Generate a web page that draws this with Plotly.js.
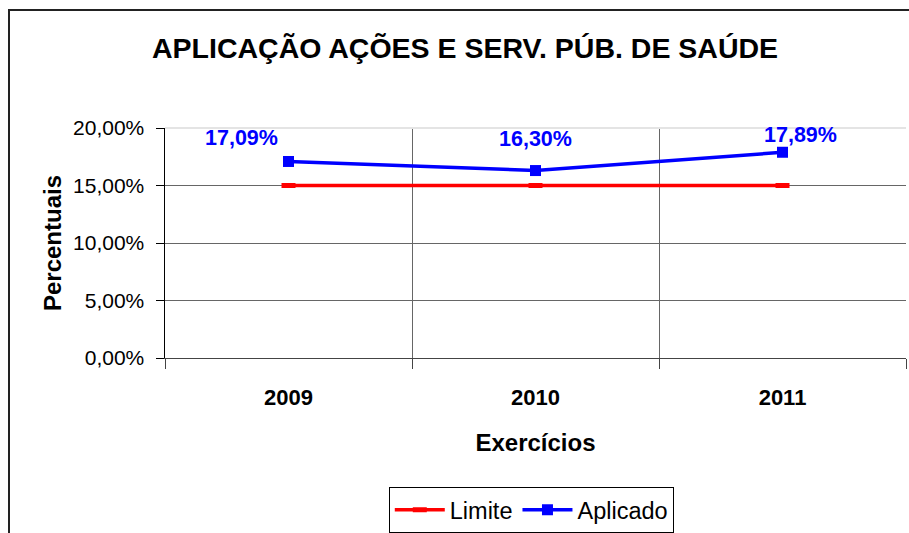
<!DOCTYPE html>
<html>
<head>
<meta charset="utf-8">
<script src="https://cdn.plot.ly/plotly-3.0.1.min.js"></script>
<style>
html,body{margin:0;padding:0;background:#fff;overflow:hidden;width:909px;height:533px;}
#chart{position:absolute;left:0;top:0;width:909px;height:560px;}
#frame{position:absolute;left:8px;top:9px;width:1000px;height:700px;border:2px solid #222;pointer-events:none;box-sizing:border-box;}
</style>
</head>
<body>
<div id="chart"></div>
<div id="frame"></div>
<script>
const years = ['2009', '2010', '2011'];
const limite = [0.15, 0.15, 0.15];
const aplicado = [0.1709, 0.1630, 0.1789];
const aplicadoLabels = ['17,09%', '16,30%', '17,89%'];
const labelShifts = [-47, 0, 18];
const labelYShifts = [23, 32, 17];

const font = 'Liberation Sans, Arial, sans-serif';

const traces = [
  {
    x: years, y: limite, name: 'Limite', type: 'scatter', mode: 'lines+markers',
    line: {color: '#ff0000', width: 3.5},
    marker: {symbol: 'line-ew', size: 10, color: '#ff0000', line: {color: '#ff0000', width: 5}},
    hoverinfo: 'none'
  },
  {
    x: years, y: aplicado, name: 'Aplicado', type: 'scatter', mode: 'lines+markers',
    line: {color: '#0000ff', width: 3.5},
    marker: {symbol: 'square', size: 11, color: '#0000ff'},
    hoverinfo: 'none'
  }
];

const annotations = years.map((yr, i) => ({
  x: i, y: aplicado[i], xref: 'x', yref: 'y',
  text: '<b>' + aplicadoLabels[i] + '</b>',
  showarrow: false, xshift: labelShifts[i], yshift: labelYShifts[i],
  font: {family: font, size: 21.5, color: '#0000ff'}
}));

const layout = {
  width: 909, height: 560,
  paper_bgcolor: 'rgba(0,0,0,0)', plot_bgcolor: 'rgba(0,0,0,0)',
  margin: {l: 165, r: 3, t: 128, b: 202},
  separators: ',.',
  showlegend: true,
  title: {
    text: '<b>APLICAÇÃO AÇÕES E SERV. PÚB. DE SAÚDE</b>',
    font: {family: font, size: 28.5, color: '#000'},
    x: 0.5116, xref: 'container', xanchor: 'center', y: 48, yref: 'container', yanchor: 'middle'
  },
  xaxis: {
    type: 'category', range: [-0.5, 2.5],
    tickson: 'boundaries', ticks: 'outside', ticklen: 10, tickcolor: '#444', tickwidth: 1,
    showgrid: true, gridcolor: '#666', gridwidth: 1,
    showline: true, linecolor: '#444', linewidth: 1,
    tickfont: {family: font, size: 22, color: '#000', weight: 'bold'},
    ticklabelstandoff: 20,
    title: {text: '<b>Exercícios</b>', font: {family: font, size: 24, color: '#000'}, standoff: 24},
    zeroline: false, fixedrange: true
  },
  yaxis: {
    range: [0, 0.2], tickvals: [0, 0.05, 0.10, 0.15, 0.20], tickformat: '.2%',
    ticks: 'outside', ticklen: 8, tickcolor: '#000', tickwidth: 1,
    showgrid: true, gridcolor: '#666', gridwidth: 1,
    showline: true, linecolor: '#000', linewidth: 1.5,
    tickfont: {family: font, size: 21, color: '#000'},
    ticklabelstandoff: 7,
    title: {text: '<b>Percentuais</b>', font: {family: font, size: 24, color: '#000'}, standoff: 4},
    zeroline: false, fixedrange: true
  },
  legend: {
    orientation: 'h', x: 0.302, xanchor: 'left', y: -0.561, yanchor: 'top',
    bordercolor: '#000', borderwidth: 1, bgcolor: '#fff',
    font: {family: font, size: 23.5, color: '#000'},
    itemwidth: 50, tracegroupgap: 0
  },
  shapes: [{
    type: 'line', xref: 'x domain', yref: 'y domain', x0: 0, x1: 1, y0: 1, y1: 1,
    line: {color: '#e4e4e4', width: 2}, layer: 'above'
  }],
  annotations: annotations
};
layout.title.y = 1 - 48 / 560;

Plotly.newPlot('chart', traces, layout, {displayModeBar: false, staticPlot: true});
</script>
</body>
</html>
